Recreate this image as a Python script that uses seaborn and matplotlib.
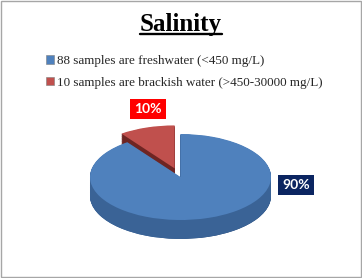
import numpy as np
import matplotlib
matplotlib.use("Agg")
import matplotlib.pyplot as plt
import seaborn as sns
from matplotlib.patches import Rectangle
from matplotlib.colors import LinearSegmentedColormap

# ---- data ----
title = "Salinity"
categories = ["88 samples are freshwater (<450 mg/L)",
              "10 samples are brackish water (>450-30000 mg/L)"]
shares = [90, 10]
pct_labels = ["90%", "10%"]
top_colors = ["#4F81BD", "#C0504D"]
side_colors = ["#3A6396", "#6E2523"]
label_box_colors = ["#0B2561", "#FF0000"]
explode = [0, 0.21]

sns.set_theme(style="white")
plt.rcParams['font.family'] = ['Liberation Serif', 'DejaVu Serif']

W, H = 362, 278
fig = plt.figure(figsize=(W / 100, H / 100), dpi=100)
fig.patch.set_facecolor("white")

bg = fig.add_axes([0, 0, 1, 1])
bg.set_xlim(0, W)
bg.set_ylim(H, 0)
bg.axis("off")
bg.add_patch(Rectangle((1, 1), W - 2.5, H - 2.5, fill=False,
                       edgecolor="#A6A6A6", linewidth=1))

# ---- pie axes (squashed to look like a 3D pie) ----
px0, px1 = 90, 271
cy, ry = 177, 43
ylo, yhi = -1.5, 1.3
top_px = cy - yhi * ry
bot_px = cy - ylo * ry
pax = fig.add_axes([px0 / W, 1 - bot_px / H, (px1 - px0) / W, (bot_px - top_px) / H])

depth = 0.44
nlayers = 30
grad = LinearSegmentedColormap.from_list(
    "side", ["#4673AA", "#3D679C", "#32598A", "#284672", "#2E5080"])
gimg = np.linspace(0, 1, 256).reshape(1, -1)
for k in range(nlayers, 0, -1):
    off = depth * k / nlayers
    wedges, _ = pax.pie(shares, colors=side_colors, startangle=90, counterclock=False,
                        explode=explode, center=(0, -off),
                        wedgeprops=dict(linewidth=0))
    im = pax.imshow(gimg, cmap=grad, extent=(-1, 1, ylo, yhi), aspect="auto",
                    interpolation="bilinear")
    im.set_clip_path(wedges[0])

pax.pie(shares, colors=top_colors, startangle=90, counterclock=False,
        explode=explode, center=(0, 0), wedgeprops=dict(linewidth=0))
pax.set_aspect("auto")
pax.set_xlim(-1, 1)
pax.set_ylim(ylo, yhi)
pax.axis("off")

# ---- percentage labels ----
lab_font = dict(family=["Lato", "DejaVu Sans"], weight="bold", color="white", size=10)
bg.text(296, 185, pct_labels[0], ha="center", va="center",
        bbox=dict(boxstyle="square,pad=0.3", fc=label_box_colors[0], ec="none"), **lab_font)
bg.text(148, 109, pct_labels[1], ha="center", va="center",
        bbox=dict(boxstyle="square,pad=0.3", fc=label_box_colors[1], ec="none"), **lab_font)

# ---- title with underline ----
t = bg.text(181, 25, title, ha="center", va="center", fontsize=18, fontweight="bold",
            color="black")
fig.canvas.draw()
bb = t.get_window_extent(renderer=fig.canvas.get_renderer())
inv = bg.transData.inverted()
(x0, y0), (x1, y1) = inv.transform([[bb.x0, bb.y0], [bb.x1, bb.y1]])
bg.plot([x0, x1], [y0 - 3, y0 - 3], color="black", linewidth=1.7)

# ---- legend ----
handles = [Rectangle((0, 0), 1, 1, fc=c, ec="#7F7F7F", lw=0.4) for c in top_colors]
bg.legend(handles, categories, loc="upper left", bbox_to_anchor=(46 / W, 1 - 55 / H),
          bbox_transform=fig.transFigure, frameon=False, fontsize=9.45,
          handlelength=0.6, handleheight=0.6, handletextpad=0.25,
          labelspacing=0.75, borderaxespad=0, borderpad=0)

fig.savefig("out.png", dpi=100, facecolor="white")
